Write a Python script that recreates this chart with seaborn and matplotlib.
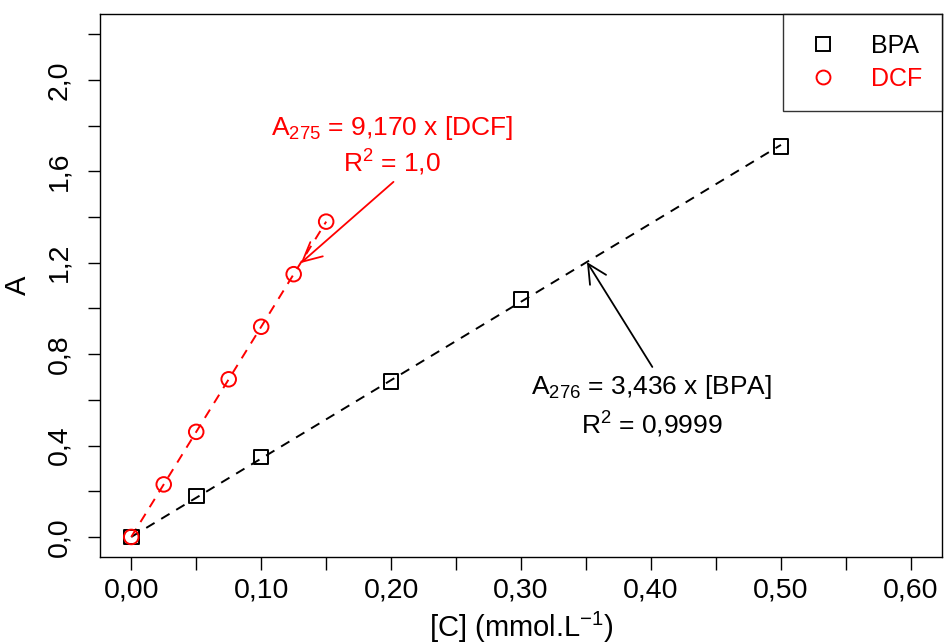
import numpy as np
import pandas as pd
import matplotlib
matplotlib.use("Agg")
import matplotlib.pyplot as plt
import seaborn as sns

# --- data ---
bpa_conc = [0.0, 0.05, 0.10, 0.20, 0.30, 0.50]
bpa_abs = [0.0, 0.18, 0.35, 0.68, 1.04, 1.71]
dcf_conc = [0.0, 0.025, 0.05, 0.075, 0.10, 0.125, 0.15]
dcf_abs = [0.0, 0.23, 0.46, 0.69, 0.92, 1.15, 1.38]

x_ticks = [0.0, 0.05, 0.10, 0.15, 0.20, 0.25, 0.30, 0.35, 0.40, 0.45, 0.50, 0.55, 0.60]
x_labels = ["0,00", "", "0,10", "", "0,20", "", "0,30", "", "0,40", "", "0,50", "", "0,60"]
y_ticks = [0.0, 0.2, 0.4, 0.6, 0.8, 1.0, 1.2, 1.4, 1.6, 1.8, 2.0, 2.2]
y_labels = ["0,0", "", "0,4", "", "0,8", "", "1,2", "", "1,6", "", "2,0", ""]

bpa = pd.DataFrame({"C": bpa_conc, "A": bpa_abs})
dcf = pd.DataFrame({"C": dcf_conc, "A": dcf_abs})

# fitted lines through the origin (least squares on the data)
bpa_slope = (bpa.C * bpa.A).sum() / (bpa.C ** 2).sum()
dcf_slope = (dcf.C * dcf.A).sum() / (dcf.C ** 2).sum()
bpa["fit"] = bpa_slope * bpa.C
dcf["fit"] = dcf_slope * dcf.C

sns.set_theme(style="ticks")
plt.rcParams["font.family"] = ["Liberation Sans", "DejaVu Sans"]
plt.rcParams["mathtext.default"] = "regular"
plt.rcParams["text.color"] = "black"

fig = plt.figure(figsize=(9.44, 6.44), dpi=100)
ax = fig.add_axes([0.106, 0.135, 0.892, 0.843])

sns.lineplot(data=bpa, x="C", y="fit", color="black", lw=1.4, ax=ax)
sns.lineplot(data=dcf, x="C", y="fit", color="red", lw=1.4, ax=ax)
for ln in ax.lines:
    ln.set_dashes([5, 4])

sns.scatterplot(data=bpa, x="C", y="A", marker="s", s=110, color="black",
                facecolor="none", edgecolor="black", linewidth=1.4, ax=ax, zorder=3)
sns.scatterplot(data=dcf, x="C", y="A", marker="o", s=110, color="red",
                facecolor="none", edgecolor="red", linewidth=1.4, ax=ax, zorder=3)

ax.set_xlim(-0.024, 0.624)
ax.set_ylim(-0.088, 2.288)
ax.set_xticks(x_ticks)
ax.set_xticklabels(x_labels)
ax.set_yticks(y_ticks)
ax.set_yticklabels(y_labels, rotation=90, va="center")
ax.tick_params(axis="both", direction="out", length=9, width=1, color="black",
               labelsize=20.5, labelcolor="black")
ax.tick_params(axis="x", pad=6)
ax.tick_params(axis="y", pad=11)
for sp in ax.spines.values():
    sp.set_visible(True)
    sp.set_color("black")
    sp.set_linewidth(1)

ax.set_xlabel("[C] (mmol.L$^{-1}$)", fontsize=21, labelpad=4, color="black")
ax.set_ylabel("A", fontsize=21, labelpad=10, color="black")

# annotations
ax.annotate("", xy=(0.1305, 1.199), xytext=(0.2018, 1.554),
            arrowprops=dict(arrowstyle="->", color="red", lw=1.3,
                            mutation_scale=34, shrinkA=0, shrinkB=0))
ax.text(0.2005, 1.79, "A$_{275}$ = 9,170 x [DCF]", color="red", fontsize=19,
        ha="center", va="center")
ax.text(0.2005, 1.635, "R$^2$ = 1,0", color="red", fontsize=19,
        ha="center", va="center")

ax.annotate("", xy=(0.3507, 1.203), xytext=(0.401, 0.744),
            arrowprops=dict(arrowstyle="->", color="black", lw=1.3,
                            mutation_scale=34, shrinkA=0, shrinkB=0))
ax.text(0.4005, 0.655, "A$_{276}$ = 3,436 x [BPA]", color="black", fontsize=19,
        ha="center", va="center")
ax.text(0.4005, 0.49, "R$^2$ = 0,9999", color="black", fontsize=19,
        ha="center", va="center")

# legend
handles = [
    plt.Line2D([], [], ls="", marker="s", ms=10, mfc="none", mec="black", mew=1.4),
    plt.Line2D([], [], ls="", marker="o", ms=10, mfc="none", mec="red", mew=1.4),
]
leg = ax.legend(handles, ["BPA", "DCF"], loc="upper right", borderaxespad=0,
                fontsize=18, frameon=True, fancybox=False, handletextpad=1.1,
                borderpad=0.8, labelspacing=0.35, handlelength=1.6)
leg.get_frame().set_edgecolor("black")
leg.get_frame().set_linewidth(1)
leg.get_texts()[0].set_color("black")
leg.get_texts()[1].set_color("red")

fig.savefig("out.png", dpi=100)
